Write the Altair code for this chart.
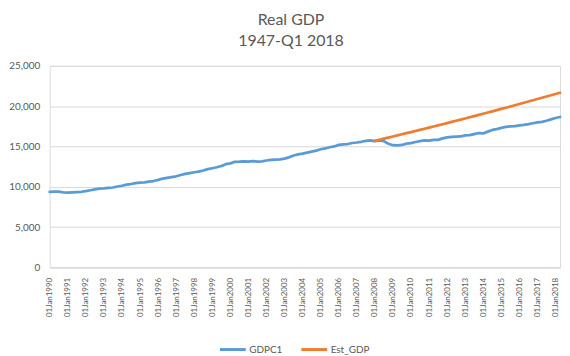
import altair as alt
import pandas as pd

# Quarter categories 1990Q1 .. 2018Q2
years = list(range(1990, 2019))
months = ["Jan", "Apr", "Jul", "Oct"]
categories = [f"01{m}{y}" for y in years for m in months][:114]
tick_labels = [f"01Jan{y}" for y in years]

gdpc1 = [
    9365, 9390, 9395, 9315,      # 1990
    9270, 9305, 9340, 9380,      # 1991
    9470, 9570, 9665, 9770,      # 1992
    9790, 9850, 9910, 10030,     # 1993
    10130, 10270, 10340, 10460,  # 1994
    10510, 10540, 10630, 10710,  # 1995
    10850, 11010, 11100, 11200,  # 1996
    11300, 11460, 11590, 11690,  # 1997
    11800, 11880, 12020, 12190,  # 1998
    12300, 12420, 12580, 12800,  # 1999
    12900, 13100, 13110, 13160,  # 2000
    13120, 13180, 13130, 13160,  # 2001
    13260, 13330, 13380, 13400,  # 2002
    13490, 13650, 13880, 14020,  # 2003
    14120, 14240, 14360, 14490,  # 2004
    14650, 14760, 14900, 15000,  # 2005
    15200, 15270, 15300, 15430,  # 2006
    15490, 15580, 15700, 15762,  # 2007
    15671, 15752, 15667, 15328,  # 2008
    15156, 15134, 15189, 15356,  # 2009
    15415, 15557, 15672, 15751,  # 2010
    15713, 15825, 15821, 16004,  # 2011
    16129, 16199, 16221, 16239,  # 2012
    16383, 16403, 16532, 16664,  # 2013
    16617, 16842, 17047, 17143,  # 2014
    17306, 17423, 17486, 17514,  # 2015
    17613, 17668, 17764, 17876,  # 2016
    17977, 18054, 18186, 18359,  # 2017
    18531, 18654,                # 2018
]

est_start = "01Jan2008"
est_gdp = [
    15700, 15835, 15970, 16105,  # 2008
    16240, 16375, 16510, 16645,  # 2009
    16780, 16915, 17050, 17192,  # 2010
    17334, 17476, 17618, 17760,  # 2011
    17902, 18044, 18186, 18328,  # 2012
    18470, 18618, 18766, 18914,  # 2013
    19062, 19210, 19358, 19506,  # 2014
    19654, 19802, 19950, 20105,  # 2015
    20260, 20415, 20570, 20725,  # 2016
    20880, 21035, 21190, 21345,  # 2017
    21500, 21655,                # 2018
]

y_ticks = [0, 5000, 10000, 15000, 20000, 25000]

rows = []
for i, (c, v) in enumerate(zip(categories, gdpc1)):
    rows.append({"q": c, "idx": i, "series": "GDPC1", "value": v})
s0 = categories.index(est_start)
for j, v in enumerate(est_gdp):
    rows.append({"q": categories[s0 + j], "idx": s0 + j, "series": "Est_GDP", "value": v})
df = pd.DataFrame(rows)

FONT = "Lato"
GREY = "#595959"

chart = alt.Chart(df).mark_line(strokeWidth=2.75, strokeCap="round", strokeJoin="round").encode(
    x=alt.X("q:O", sort=categories,
            scale=alt.Scale(type="point", padding=0),
            axis=alt.Axis(values=tick_labels, labelAngle=270, title=None, ticks=False,
                          domain=True, domainColor="#D9D9D9", labelFont=FONT, labelFontSize=8,
                          labelColor=GREY, labelPadding=10, labelOverlap=False, grid=False)),
    y=alt.Y("value:Q", scale=alt.Scale(domain=[0, 25000]),
            axis=alt.Axis(values=y_ticks, format=",.0f", title=None,
                          ticks=False, domain=False, gridColor="#D9D9D9", gridWidth=1,
                          labelFont=FONT, labelFontSize=10, labelColor=GREY, labelPadding=10,
                          minExtent=39, maxExtent=39)),
    color=alt.Color("series:N",
                    scale=alt.Scale(domain=["GDPC1", "Est_GDP"], range=["#5B9BD5", "#ED7D31"]),
                    legend=alt.Legend(orient="none", legendX=170, legendY=271, direction="horizontal",
                                      title=None, symbolType="stroke", symbolSize=676,
                                      symbolStrokeWidth=3, labelFont=FONT, labelFontSize=10,
                                      labelColor=GREY, labelOffset=2, columnPadding=12)),
    order=alt.Order("idx:Q"),
).properties(
    width=514,
    height=203,
    padding={"left": 0, "top": 3, "right": 0, "bottom": 0},
    title=alt.TitleParams(text=["Real GDP", "1947-Q1 2018"], font=FONT, fontSize=16,
                          fontWeight="normal", color=GREY, lineHeight=21, anchor="middle",
                          frame="bounds", offset=12, dx=6),
).configure_view(stroke=None).configure(background="white")

chart.save("out.html", embed_options={"renderer": "svg", "actions": False})
